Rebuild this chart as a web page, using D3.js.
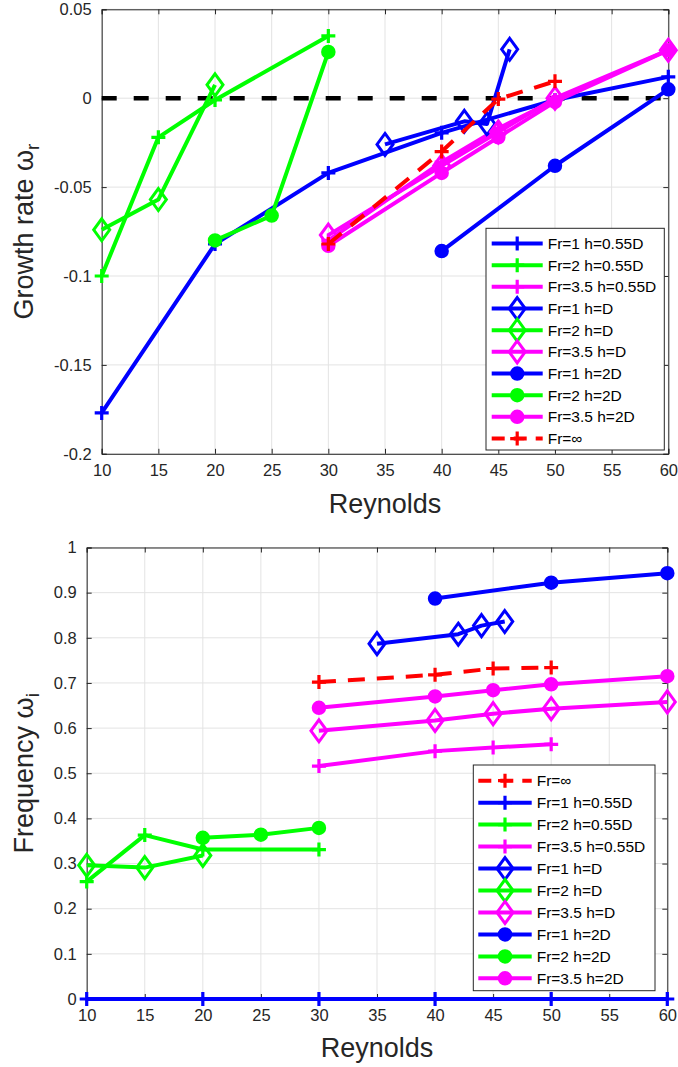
<!DOCTYPE html>
<html><head><meta charset="utf-8">
<script src="https://cdn.jsdelivr.net/npm/d3@7/dist/d3.min.js"></script>
<style>
html,body{margin:0;padding:0;background:#fff;}
svg{display:block;font-family:"Liberation Sans",Arial,Helvetica,sans-serif;}
</style></head>
<body>
<svg id="chart" width="678" height="1067"></svg>
<script>
// ---------- tick labels ----------
const reynoldsTicks = [10, 15, 20, 25, 30, 35, 40, 45, 50, 55, 60];
const growthTicks = [-0.2, -0.15, -0.1, -0.05, 0, 0.05];
const growthTickLabels = ["-0.2", "-0.15", "-0.1", "-0.05", "0", "0.05"];
const freqTicks = [0, 0.1, 0.2, 0.3, 0.4, 0.5, 0.6, 0.7, 0.8, 0.9, 1];
const freqTickLabels = ["0", "0.1", "0.2", "0.3", "0.4", "0.5", "0.6", "0.7", "0.8", "0.9", "1"];

// ---------- series names ----------
const seriesNames = ["Fr=1 h=0.55D", "Fr=2 h=0.55D", "Fr=3.5 h=0.55D",
  "Fr=1 h=D", "Fr=2 h=D", "Fr=3.5 h=D",
  "Fr=1 h=2D", "Fr=2 h=2D", "Fr=3.5 h=2D", "Fr=\u221E"];

// ---------- Reynolds numbers per series ----------
const reFr1h055 = [10, 20, 30, 40, 50, 60];
const reFr2h055 = [10, 15, 20, 30];
const reFr35h055 = [30, 40, 45, 50];
const reFr1hD = [35, 42, 44, 46];
const reFr2hD = [10, 15, 20];
const reFr35hD = [30, 40, 45, 50, 60];
const reFr1h2D = [40, 50, 60];
const reFr2h2D = [20, 25, 30];
const reFr35h2D = [30, 40, 45, 50, 60];
const reFrInf = [30, 40, 45, 50];

// ---------- growth rate (top) ----------
const grFr1h055 = [-0.177, -0.082, -0.042, -0.0195, -0.001, 0.012];
const grFr2h055 = [-0.1, -0.022, -0.001, 0.035];
const grFr35h055 = [-0.080, -0.036, -0.017, -0.001];
const grFr1hD = [-0.026, -0.013, -0.0145, 0.0275];
const grFr2hD = [-0.074, -0.057, 0.0075];
const grFr35hD = [-0.077, -0.038, -0.019, 0.000, 0.027];
const grFr1h2D = [-0.086, -0.038, 0.005];
const grFr2h2D = [-0.080, -0.066, 0.026];
const grFr35h2D = [-0.083, -0.042, -0.022, -0.002, 0.027];
const grFrInf = [-0.082, -0.030, -0.0005, 0.0095];

// ---------- frequency (bottom) ----------
const frFr1h055 = [0, 0, 0, 0, 0, 0];
const frFr2h055 = [0.26, 0.363, 0.331, 0.331];
const frFr35h055 = [0.516, 0.549, 0.557, 0.564];
const frFr1hD = [0.787, 0.808, 0.827, 0.836];
const frFr2hD = [0.296, 0.291, 0.318];
const frFr35hD = [0.594, 0.617, 0.632, 0.643, 0.658];
const frFr1h2D = [0.887, 0.922, 0.943];
const frFr2h2D = [0.357, 0.364, 0.379];
const frFr35h2D = [0.645, 0.670, 0.684, 0.697, 0.715];
const frFrInf = [0.702, 0.718, 0.732, 0.734];

// ---------- styles (not data) ----------
const BLUE = "#0000ff", GREEN = "#00ff00", MAG = "#ff00ff", RED = "#ff0000";
const styles = [
  {c: BLUE, m: "plus"}, {c: GREEN, m: "plus"}, {c: MAG, m: "plus"},
  {c: BLUE, m: "diamond"}, {c: GREEN, m: "diamond"}, {c: MAG, m: "diamond"},
  {c: BLUE, m: "circle"}, {c: GREEN, m: "circle"}, {c: MAG, m: "circle"},
  {c: RED, m: "plus", dash: "17,12"}
];
const reList = [reFr1h055, reFr2h055, reFr35h055, reFr1hD, reFr2hD, reFr35hD, reFr1h2D, reFr2h2D, reFr35h2D, reFrInf];
const grList = [grFr1h055, grFr2h055, grFr35h055, grFr1hD, grFr2hD, grFr35hD, grFr1h2D, grFr2h2D, grFr35h2D, grFrInf];
const frList = [frFr1h055, frFr2h055, frFr35h055, frFr1hD, frFr2hD, frFr35hD, frFr1h2D, frFr2h2D, frFr35h2D, frFrInf];

const svg = d3.select("#chart");
const AX = "#262626";

function marker(g, type, color, x, y) {
  if (type === "plus") {
    g.append("path").attr("d", `M${x-7},${y}H${x+7}M${x},${y-7}V${y+7}`)
      .attr("stroke", color).attr("stroke-width", 3.2).attr("fill", "none");
  } else if (type === "diamond") {
    g.append("path").attr("d", `M${x},${y-11}L${x+8},${y}L${x},${y+11}L${x-8},${y}Z`)
      .attr("stroke", color).attr("stroke-width", 3).attr("fill", "none");
  } else {
    g.append("circle").attr("cx", x).attr("cy", y).attr("r", 6)
      .attr("fill", color).attr("stroke", color).attr("stroke-width", 2.5);
  }
}

function panel(cfg) {
  const x = d3.scaleLinear().domain([10, 60]).range([cfg.left, cfg.right]);
  const y = d3.scaleLinear().domain(cfg.ydomain).range([cfg.bottom, cfg.top]);
  const g = svg.append("g");

  // grid
  g.append("g").selectAll("line").data(reynoldsTicks).join("line")
    .attr("x1", d => x(d)).attr("x2", d => x(d)).attr("y1", cfg.top).attr("y2", cfg.bottom)
    .attr("stroke", "#e3e3e3").attr("stroke-width", 1);
  g.append("g").selectAll("line").data(cfg.yticks).join("line")
    .attr("y1", d => y(d)).attr("y2", d => y(d)).attr("x1", cfg.left).attr("x2", cfg.right)
    .attr("stroke", "#e3e3e3").attr("stroke-width", 1);

  // axes (inward ticks, box)
  const xb = d3.axisBottom(x).tickValues(reynoldsTicks).tickSize(-5).tickPadding(10)
    .tickFormat(d => String(d));
  const xt = d3.axisTop(x).tickValues(reynoldsTicks).tickSize(-5).tickFormat("");
  const yl = d3.axisLeft(y).tickValues(cfg.yticks).tickSize(-5).tickPadding(10)
    .tickFormat((d, i) => cfg.ylabels[i]);
  const yr = d3.axisRight(y).tickValues(cfg.yticks).tickSize(-5).tickFormat("");
  const axes = g.append("g");
  function styleAxis(sel) {
    sel.select(".domain").attr("stroke", AX).attr("stroke-width", 1);
    sel.selectAll(".tick line").attr("stroke", AX).attr("stroke-width", 1);
    sel.selectAll(".tick text").attr("fill", AX).style("font-size", "16.5px")
      .style("font-family", '"Liberation Sans",Arial,sans-serif');
  }
  axes.append("g").attr("transform", `translate(0,${cfg.bottom})`).call(xb).call(styleAxis);
  axes.append("g").attr("transform", `translate(0,${cfg.top})`).call(xt).call(styleAxis);
  axes.append("g").attr("transform", `translate(${cfg.left},0)`).call(yl).call(styleAxis);
  axes.append("g").attr("transform", `translate(${cfg.right},0)`).call(yr).call(styleAxis);
  axes.selectAll(".domain").attr("d", function() { return d3.select(this).attr("d"); });

  // zero line
  if (cfg.zeroLine) {
    g.append("line").attr("x1", x(10)).attr("x2", x(60)).attr("y1", y(0)).attr("y2", y(0))
      .attr("stroke", "#000").attr("stroke-width", 4.5).attr("stroke-dasharray", "15,17");
  }

  // series
  const line = d3.line().x(d => x(d[0])).y(d => y(d[1]));
  cfg.order.forEach(i => {
    const pts = reList[i].map((r, k) => [r, cfg.values[i][k]]);
    const st = styles[i];
    const sg = g.append("g");
    sg.append("path").attr("d", line(pts)).attr("fill", "none").attr("stroke", st.c)
      .attr("stroke-width", 4).attr("stroke-linejoin", "round")
      .attr("stroke-dasharray", st.dash || null);
    pts.forEach(p => marker(sg, st.m, st.c, x(p[0]), y(p[1])));
  });

  // labels
  g.append("text").attr("x", (cfg.left + cfg.right) / 2).attr("y", cfg.xlabelY)
    .attr("text-anchor", "middle").attr("fill", AX).style("font-size", "27px").text("Reynolds");
  const yt = g.append("text")
    .attr("transform", `translate(${cfg.ylabelX},${(cfg.top + cfg.bottom) / 2}) rotate(-90)`)
    .attr("text-anchor", "middle").attr("fill", AX).style("font-size", "27px");
  yt.append("tspan").text(cfg.ylabel + " ");
  yt.append("tspan").text("\u03C9");
  yt.append("tspan").attr("dy", 6).style("font-size", "19px").text(cfg.ysub);

  // legend
  const L = cfg.legend;
  const lg = g.append("g");
  lg.append("rect").attr("x", L.x).attr("y", L.y).attr("width", L.w).attr("height", L.h)
    .attr("fill", "#fff").attr("stroke", AX).attr("stroke-width", 1);
  L.order.forEach((i, k) => {
    const yy = L.firstRow + k * L.step;
    const st = styles[i];
    lg.append("line").attr("x1", L.lx1).attr("x2", L.lx2).attr("y1", yy).attr("y2", yy)
      .attr("stroke", st.c).attr("stroke-width", 4).attr("stroke-dasharray", st.dash ? "13,9" : null);
    marker(lg, st.m, st.c, (L.lx1 + L.lx2) / 2, yy);
    lg.append("text").attr("x", L.tx).attr("y", yy + 5.5).attr("fill", "#000")
      .style("font-size", "15.5px").text(seriesNames[i]);
  });
}

panel({
  left: 101.7, right: 668.3, top: 9.3, bottom: 453.8,
  ydomain: [-0.2, 0.05], yticks: growthTicks, ylabels: growthTickLabels,
  values: grList, order: [0,1,2,3,4,5,6,7,8,9], zeroLine: true,
  xlabelY: 513, ylabelX: 33, ylabel: "Growth rate", ysub: "r",
  legend: {x: 486, y: 228.3, w: 178.3, h: 221.7, firstRow: 243.5, step: 21.67,
           lx1: 491.7, lx2: 542.7, tx: 547.7, order: [0,1,2,3,4,5,6,7,8,9]}
});

panel({
  left: 86.7, right: 667.3, top: 547.5, bottom: 999,
  ydomain: [0, 1], yticks: freqTicks, ylabels: freqTickLabels,
  values: frList, order: [9,0,1,2,3,4,5,6,7,8], zeroLine: false,
  xlabelY: 1057, ylabelX: 33, ylabel: "Frequency", ysub: "i",
  legend: {x: 473.3, y: 765, w: 181.7, h: 225.7, firstRow: 780.7, step: 21.96,
           lx1: 478.3, lx2: 531.7, tx: 536.7, order: [9,0,1,2,3,4,5,6,7,8]}
});
</script>
</body></html>
